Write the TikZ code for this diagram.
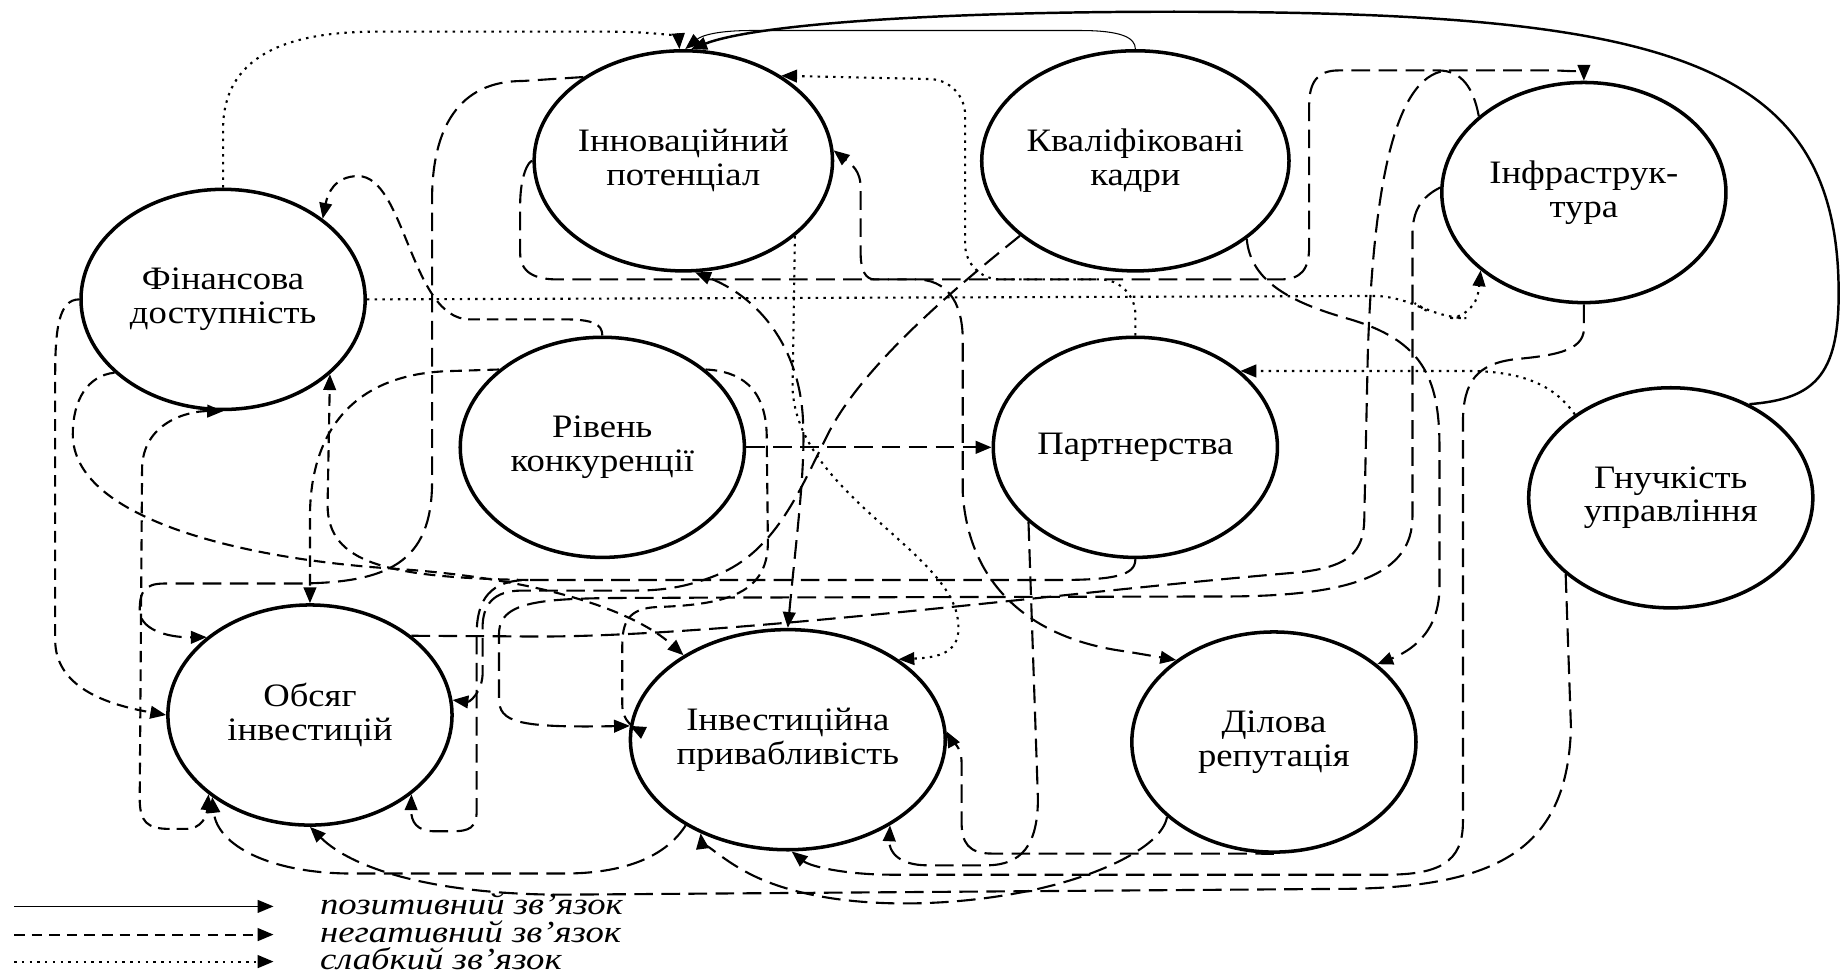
\documentclass[tikz,border=0pt]{standalone}
\usepackage{fontspec}
\setmainfont{Liberation Serif}[FakeStretch=1.12]
\newfontfamily\legfont{Liberation Serif}[FakeStretch=1.2]
\usetikzlibrary{shapes,arrows.meta}
\newcommand{\factorfont}{\fontsize{9.3}{9.6}\selectfont}

\begin{document}
\begin{tikzpicture}[x=0.01174cm, y=-0.01174cm,
    factor/.style={draw, ellipse, line width=1pt, minimum width=2.84cm, minimum height=2.2cm,
        inner sep=0pt, align=center, font=\factorfont},
    link/.style={-{Triangle[length=4.5pt,width=3.6pt]}},
    poslink/.style={link, line width=0.7pt},
    neglink/.style={link, line width=0.6pt, dash pattern=on 5.3pt off 2.4pt},
    shortneg/.style={link, line width=0.6pt, dash pattern=on 3.3pt off 2pt},
    weaklink/.style={link, line width=0.6pt, dash pattern=on 0.7pt off 1.5pt},
    both/.style={{Triangle[length=4.5pt,width=3.6pt]}-{Triangle[length=4.5pt,width=3.6pt]}},
    legtext/.style={anchor=base west, inner sep=0pt, font=\legfont\fontsize{8.7}{9}\selectfont\itshape}]

    \useasboundingbox (0,0) rectangle (1568,831);

    \node[factor] (inn) at (582,137) {Інноваційний\\потенціал};
    \node[factor] (kadry) at (967,137) {Кваліфіковані\\кадри};
    \node[factor] (infra) at (1349,164) {Інфраструк-\\тура};
    \node[factor] (fin) at (190,255) {Фінансова\\доступність};
    \node[factor] (konk) at (513,381) {Рівень\\конкуренції};
    \node[factor] (partn) at (967,381) {Партнерства};
    \node[factor] (gnuch) at (1423,424) {Гнучкість\\управління};
    \node[factor] (obs) at (264,609) {Обсяг\\інвестицій};
    \node[factor] (priv) at (671,630) {Інвестиційна\\привабливість};
    \node[factor] (rep) at (1085,632) {Ділова\\репутація};

    \coordinate (j1) at (745,238);
    \coordinate (j3) at (450,494);

    % positive
    \draw[poslink] (gnuch.50) .. controls (1545,340) and (1566,320) .. (1566,250)
        .. controls (1566,50) and (1420,10) .. (1000,10) .. controls (780,10) and (640,22) .. (inn.86);
    \draw[poslink, line width=0.3pt] (kadry.north) .. controls (967,32) and (955,26) .. (920,26) -- (640,26)
        .. controls (612,26) and (598,30) .. (inn.89);

    % weak
    \draw[weaklink] (fin.north) -- (190,110) .. controls (190,50) and (240,27) .. (320,27) -- (520,27)
        .. controls (560,27) and (578,32) .. (inn.92);
    \draw[weaklink, rounded corners=10pt] (partn.north) -- (967,238) -- (822,238) -- (822,68) -- (inn.41);
    \draw[weaklink, rounded corners=8pt] (fin.east) -- (1195,252) -- (1225,271) -- (1257,271) -- (infra.-143);
    \draw[weaklink] (gnuch.139) .. controls (1325,330) and (1300,316) .. (1250,316) -- (partn.36);
    \draw[weaklink] (inn.-34) -- (675,330) .. controls (678,420) and (812,470) .. (816,530)
        .. controls (819,556) and (800,560) .. (priv.36);

    % negative
    \draw[neglink] (konk) -- (partn);
    \draw[shortneg] (fin.west) .. controls (50,255) and (47,280) .. (47,320) -- (47,545)
        .. controls (47,585) and (90,600) .. (obs.west);
    \draw[shortneg] (fin.-146) .. controls (75,320) and (62,340) .. (62,370) .. controls (62,440) and (200,475) .. (330,484)
        .. controls (460,492) and (540,520) .. (priv.141);
    \draw[shortneg] (konk.north) .. controls (513,276) and (505,272) .. (480,272) -- (400,272)
        .. controls (350,272) and (345,150) .. (305,150) .. controls (285,150) and (279,165) .. (fin.39);
    \draw[shortneg] (konk.143) -- (385,316) .. controls (290,318) and (264,380) .. (264,440) -- (obs.north);
    \draw[neglink, both] (priv.north) .. controls (678,460) and (686,400) .. (684,360)
        .. controls (682,300) and (650,255) .. (inn.-84);
    \draw[neglink] (kadry.-147) .. controls (820,240) and (735,310) .. (705,370) .. controls (680,420) and (660,470) .. (610,490)
        .. controls (585,500) and (565,503) .. (540,503) -- (445,503) .. controls (420,503) and (411,515) .. (411,535)
        -- (411,575) .. controls (410,590) and (400,598) .. (obs.6);
    \draw[neglink] (inn.140) -- (445,69) .. controls (390,69) and (368,110) .. (368,170) -- (368,410)
        .. controls (368,480) and (330,497) .. (250,497) -- (140,497) .. controls (122,497) and (119,505) .. (119,520)
        .. controls (119,535) and (140,543) .. (obs.143);
    \draw[shortneg, both] (fin.south)
        .. controls (160,350) and (121,360) .. (121,400) -- (119,680) .. controls (119,700) and (125,706) .. (145,706)
        -- (158,706) .. controls (172,706) and (176,695) .. (obs.-142);
    \draw[neglink] (inn.west) .. controls (450,137) and (443,150) .. (443,175) -- (443,215)
        .. controls (443,232) and (455,238) .. (475,238) -- (780,238) .. controls (805,238) and (820,255) .. (820,290)
        -- (820,420) .. controls (825,500) and (880,545) .. (960,555) -- (rep.140);
    \draw[neglink] (infra.144) .. controls (1255,75) and (1245,60) .. (1225,60) -- (1140,60)
        .. controls (1122,60) and (1115,70) .. (1115,90) -- (1115,210) .. controls (1115,230) and (1108,238) .. (1090,238)
        -- (j1) .. controls (737,238) and (733,230) .. (733,215) -- (733,160) .. controls (733,145) and (725,140) .. (inn.4);
    \draw[neglink] (obs.38) -- (440,542) .. controls (600,545) and (900,505) .. (1100,488)
        .. controls (1150,484) and (1162,470) .. (1162,440) -- (1165,300) .. controls (1170,150) and (1190,60) .. (1235,60)
        -- (1320,60) .. controls (1340,60) and (1349,63) .. (infra.north);
    \draw[neglink] (infra.178) .. controls (1210,168) and (1203,180) .. (1203,200) -- (1203,440)
        .. controls (1203,490) and (1150,507) .. (1050,508) -- (600,509) .. controls (480,510) and (425,505) .. (425,540)
        -- (425,595) .. controls (425,615) and (440,620) .. (priv.175);
    \draw[neglink] (partn.south) .. controls (967,490) and (950,494) .. (900,494) -- (j3)
        .. controls (418,494) and (406,510) .. (406,540) -- (406,690) .. controls (406,705) and (400,708) .. (385,708)
        -- (370,708) .. controls (355,708) and (350,700) .. (obs.-38);
    \draw[shortneg] (j3) .. controls (330,492) and (279,480) .. (279,430) -- (fin.-35);
    \draw[neglink] (kadry.-35) .. controls (1065,240) and (1100,258) .. (1150,272) .. controls (1210,290) and (1226,320) .. (1226,380)
        -- (1226,500) .. controls (1226,540) and (1200,555) .. (rep.37);
    \draw[neglink] (partn.-145) -- (884,680) .. controls (884,720) and (870,737) .. (840,737) -- (790,737)
        .. controls (765,737) and (757,725) .. (priv.-40);
    \draw[neglink] (rep.south) .. controls (1075,727) and (1050,727) .. (1000,727) -- (845,727)
        .. controls (825,727) and (819,718) .. (819,700) -- (819,650) .. controls (819,635) and (810,630) .. (priv.3);
    \draw[neglink] (infra.south) -- (1349,280) .. controls (1349,300) and (1320,303) .. (1290,306)
        .. controls (1258,310) and (1246,325) .. (1246,360) -- (1246,700) .. controls (1246,735) and (1225,745) .. (1180,745)
        -- (760,745) .. controls (720,745) and (690,738) .. (priv.-88);
    \draw[neglink] (gnuch.-144) -- (1338,620) .. controls (1335,720) and (1280,755) .. (1150,757) -- (480,762)
        .. controls (370,762) and (300,740) .. (obs.south);
    \draw[neglink] (priv.-140) .. controls (570,725) and (540,744) .. (480,744) -- (300,744)
        .. controls (230,744) and (185,720) .. (obs.-140);
    \draw[neglink] (rep.-145) .. controls (990,720) and (940,745) .. (880,758) .. controls (800,775) and (700,775) .. (640,745)
        .. controls (610,730) and (597,712) .. (priv.-133);
    \draw[shortneg] (konk.37) .. controls (630,316) and (652,330) .. (653,370) -- (654,460)
        .. controls (655,505) and (620,515) .. (560,517) .. controls (535,518) and (530,530) .. (530,550)
        -- (530,600) .. controls (530,615) and (540,620) .. (priv.175);

    % legend
    \coordinate (lgPosA) at (12,772);
    \coordinate (lgPosB) at (233,772);
    \coordinate (lgNegA) at (12,796);
    \coordinate (lgNegB) at (233,796);
    \coordinate (lgWeakA) at (12,819);
    \coordinate (lgWeakB) at (233,819);
    \draw[poslink, line width=0.5pt] (lgPosA) -- (lgPosB);
    \draw[neglink, dash pattern=on 3pt off 2pt] (lgNegA) -- (lgNegB);
    \draw[weaklink] (lgWeakA) -- (lgWeakB);
    \node[legtext] (lgPos) at (272,779) {позитивний зв’язок};
    \node[legtext] (lgNeg) at (272,803) {негативний зв’язок};
    \node[legtext] (lgWeak) at (272,826) {слабкий зв’язок};
\end{tikzpicture}
\end{document}
